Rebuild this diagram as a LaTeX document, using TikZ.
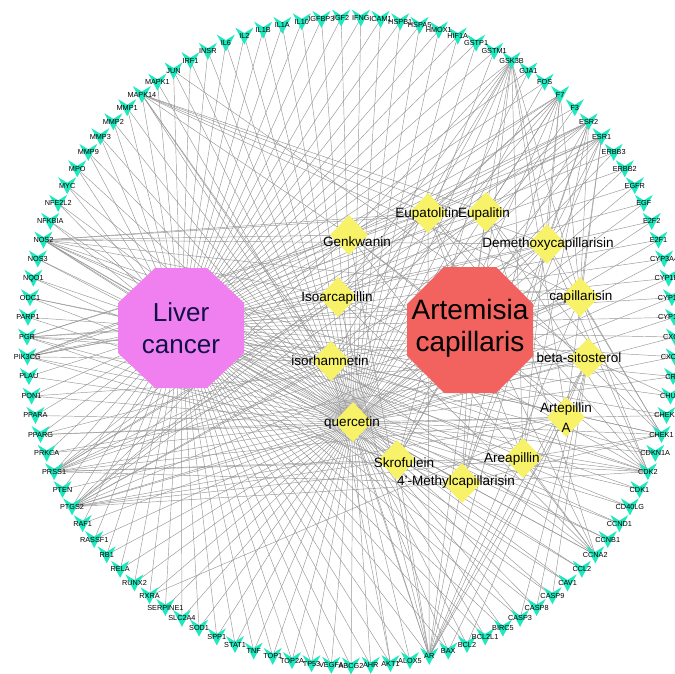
\documentclass[tikz,border=0pt]{standalone}
\usepackage{fontspec}
\setmainfont{Liberation Sans}
\usetikzlibrary{shapes.geometric,backgrounds}
\definecolor{tcol}{RGB}{30,232,190}
\definecolor{ycol}{RGB}{247,242,104}
\definecolor{pcol}{RGB}{240,128,240}
\definecolor{rcol}{RGB}{242,98,94}
\definecolor{ecol}{RGB}{150,150,150}
\definecolor{navy}{RGB}{16,16,70}
\def\genes{ABCG2,AHR,AKT1,ALOX5,AR,BAX,BCL2,BCL2L1,BIRC5,CASP3,CASP8,CASP9,CAV1,CCL2,CCNA2,CCNB1,CCND1,CD40LG,CDK1,CDK2,CDKN1A,CHEK1,CHEK2,CHUK,CRP,CXCL10,CXCL2,CYP19A1,CYP1A1,CYP1B1,CYP3A4,E2F1,E2F2,EGF,EGFR,ERBB2,ERBB3,ESR1,ESR2,F3,F7,FOS,GJA1,GSK3B,GSTM1,GSTP1,HIF1A,HMOX1,HSPA5,HSPB1,ICAM1,IFNG,IGF2,IGFBP3,IL10,IL1A,IL1B,IL2,IL6,INSR,IRF1,JUN,MAPK1,MAPK14,MMP1,MMP2,MMP3,MMP9,MPO,MYC,NFE2L2,NFKBIA,NOS2,NOS3,NQO1,ODC1,PARP1,PGR,PIK3CG,PLAU,PON1,PPARA,PPARG,PRKCA,PRSS1,PTEN,PTGS2,RAF1,RASSF1,RB1,RELA,RUNX2,RXRA,SERPINE1,SLC2A4,SOD1,SPP1,STAT1,TNF,TOP1,TOP2A,TP53,VEGFA}
\def\quertargets{ABCG2,AHR,AKT1,ALOX5,AR,BAX,BCL2,BCL2L1,BIRC5,CASP3,CASP8,CASP9,CAV1,CCL2,CCNA2,CCNB1,CCND1,CD40LG,CDK1,CDK2,CDKN1A,CHEK1,CHEK2,CRP,CXCL10,CXCL2,CYP19A1,CYP1A1,CYP1B1,CYP3A4,E2F1,E2F2,EGF,EGFR,ERBB2,ERBB3,ESR1,F3,F7,FOS,GJA1,GSK3B,GSTM1,GSTP1,HIF1A,HMOX1,HSPA5,HSPB1,ICAM1,IFNG,IGF2,IGFBP3,IL10,IL1A,IL1B,IL2,IL6,INSR,IRF1,JUN,MAPK1,MAPK14,MMP1,MMP2,MMP3,MMP9,MPO,MYC,NFE2L2,NFKBIA,NOS2,NOS3,NQO1,ODC1,PARP1,PGR,PIK3CG,PLAU,PON1,PPARA,PPARG,PRKCA,PRSS1,PTEN,PTGS2,RAF1,RASSF1,RB1,RELA,RUNX2,RXRA,SERPINE1,SLC2A4,SOD1,SPP1,STAT1,TNF,TOP1,TOP2A,TP53,VEGFA}
\begin{document}
\begin{tikzpicture}[x=1pt,y=-1pt,
  edge/.style={draw=ecol, line width=0.45pt},
  tlabel/.style={font=\fontsize{7.3}{8}\selectfont, inner sep=0pt, text=black},
  cmpd/.style={diamond, fill=ycol, draw=none, minimum width=38pt, minimum height=40pt, inner sep=0pt},
  clabel/.style={font=\fontsize{13.5}{20}\selectfont, inner sep=0pt, align=center, text=black},
  big/.style={font=\fontsize{28}{32}\selectfont, inner sep=0pt, align=center}]
\useasboundingbox (0,0) rectangle (675,674);
% target chevrons
\foreach \g [count=\k from 0] in \genes {
  \pgfmathsetmacro\ang{-90+\k*3.49515}
  \pgfmathsetmacro\px{351+324*cos(\ang)}
  \pgfmathsetmacro\py{342-324*sin(\ang)}
  \fill[tcol, shift={(\px,\py)}] (-9,-8.5) -- (0,-3) -- (9,-8.5) -- (0,8.5) -- cycle;
}
% target labels
\foreach \g [count=\k from 0] in \genes {
  \pgfmathsetmacro\ang{-90+\k*3.49515}
  \pgfmathsetmacro\px{351+324*cos(\ang)}
  \pgfmathsetmacro\py{342-324*sin(\ang)}
  \node[tlabel] (\g) at (\px,\py) {\g};
}
% disease and herb
\fill[pcol, shift={(181,328)}] (-26,-60) -- (26,-60) -- (63,-25) -- (63,25) -- (26,60) -- (-26,60) -- (-63,25) -- (-63,-25) -- cycle;
\node[big, text=navy, font=\fontsize{26}{32}\selectfont] (liver) at (181,328) {Liver\\cancer};
\fill[rcol, shift={(470,330)}] (-26,-63) -- (26,-63) -- (63,-26) -- (63,26) -- (26,63) -- (-26,63) -- (-63,26) -- (-63,-26) -- cycle;
\node[big, text=black] (art) at (470,328) {Artemisia\\capillaris};
% compounds
\node[cmpd] (eupt) at (428,213) {};
\node[cmpd] (eupl) at (486,212) {};
\node[cmpd] (genk) at (349,235) {};
\node[cmpd] (dmc) at (547,244) {};
\node[cmpd] (isoa) at (338,297) {};
\node[cmpd] (capl) at (580,297) {};
\node[cmpd] (isor) at (331,361) {};
\node[cmpd] (bsit) at (588,358) {};
\node[cmpd] (quer) at (353,422) {};
\node[cmpd] (artA) at (566,417) {};
\node[cmpd] (skro) at (397,460) {};
\node[cmpd] (arep) at (523,458) {};
\node[cmpd] (mcap) at (462,483) {};
\node[clabel] (eupt-l) at (427,214) {Eupatolitin};
\node[clabel] (eupl-l) at (484,214) {Eupalitin};
\node[clabel] (genk-l) at (357,242) {Genkwanin};
\node[clabel] (dmc-l) at (548,244) {Demethoxycapillarisin};
\node[clabel] (isoa-l) at (337,298) {Isoarcapillin};
\node[clabel] (capl-l) at (581,297) {capillarisin};
\node[clabel] (isor-l) at (330,361) {isorhamnetin};
\node[clabel] (bsit-l) at (579,358) {beta-sitosterol};
\node[clabel] (quer-l) at (352,423) {quercetin};
\node[clabel] (artA-l) at (566,418) {Artepillin\\A};
\node[clabel] (skro-l) at (404,463) {Skrofulein};
\node[clabel] (arep-l) at (512,459) {Areapillin};
\node[clabel] (mcap-l) at (456,482) {4'-Methylcapillarisin};
% edges
\begin{scope}[on background layer]
\foreach \g in \genes { \draw[edge] (liver.center) -- (\g.center); }
\foreach \c in {eupt,eupl,genk,dmc,isoa,capl,isor,bsit,quer,artA,skro,arep,mcap} { \draw[edge] (art.center) -- (\c.center); }
\foreach \g in \quertargets { \draw[edge] (quer.center) -- (\g.center); }
\foreach \g in {PTGS2,PRSS1,NOS2,PGR,PIK3CG,AR,ESR1,F7,GSK3B,CDK2,CHEK1,MAPK14,PPARG,CCNA2,AKT1,ODC1} { \draw[edge] (isor.center) -- (\g.center); }
\foreach \g in {PTGS2,PRSS1,NOS2,ESR1,ESR2,AR,PGR,F7,GSK3B,CDK2,CHEK1,MAPK14,PIK3CG,CCNA2} { \draw[edge] (eupt.center) -- (\g.center); }
\foreach \g in {PTGS2,PRSS1,NOS2,ESR1,ESR2,AR,F7,GSK3B,CDK2,CHEK1,MAPK14,PIK3CG,CCNA2} { \draw[edge] (eupl.center) -- (\g.center); }
\foreach \g in {PTGS2,PRSS1,NOS2,ESR1,ESR2,AR,PGR,GSK3B,CDK2,MAPK14,PIK3CG,CCNA2,F7} { \draw[edge] (genk.center) -- (\g.center); }
\foreach \g in {PTGS2,PRSS1,NOS2,ESR1,ESR2,AR,GSK3B,CDK2,F7,PIK3CG,CHEK1,MAPK14} { \draw[edge] (dmc.center) -- (\g.center); }
\foreach \g in {PTGS2,NOS2,PRSS1,ESR2,AR,GSK3B,F7,CDK2,PIK3CG,CCNA2} { \draw[edge] (isoa.center) -- (\g.center); }
\foreach \g in {PTGS2,NOS2,PRSS1,ESR1,ESR2,AR,GSK3B,CDK2,CHEK1,F7,PGR,MAPK14} { \draw[edge] (capl.center) -- (\g.center); }
\foreach \g in {PGR,PTGS2,PRKCA,BCL2,BAX,CASP9,JUN,CASP3,CASP8,PON1,AR,CHUK} { \draw[edge] (bsit.center) -- (\g.center); }
\foreach \g in {PTGS2,AR,ESR1,PPARG,RXRA,PRSS1,NOS2,GSK3B} { \draw[edge] (artA.center) -- (\g.center); }
\foreach \g in {PTGS2,PRSS1,NOS2,ESR2,GSK3B,AR,CDK2,PIK3CG,MAPK14,F7} { \draw[edge] (skro.center) -- (\g.center); }
\foreach \g in {PTGS2,NOS2,ESR2,AR,GSK3B,F7,CDK2,CHEK1,PRSS1,CCNA2} { \draw[edge] (arep.center) -- (\g.center); }
\foreach \g in {PTGS2,NOS2,PRSS1,ESR1,ESR2,AR,GSK3B,CDK2,F7,PGR,CHEK1} { \draw[edge] (mcap.center) -- (\g.center); }
\end{scope}
\end{tikzpicture}
\end{document}
